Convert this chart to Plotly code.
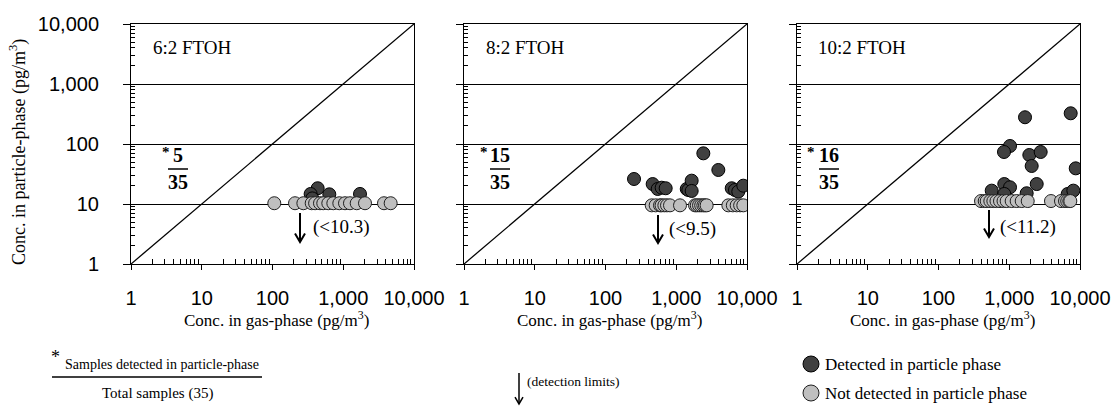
import plotly.graph_objects as go

# ---------------- data ----------------
panels = ["6:2 FTOH", "8:2 FTOH", "10:2 FTOH"]
detected_counts = ["5", "15", "16"]
total_samples = "35"
detection_limits = [10.3, 9.5, 11.2]
dl_labels = ["(<10.3)", "(<9.5)", "(<11.2)"]

p1_det_x = [435, 346, 365, 635, 1725]
p1_det_y = [18.3, 14.7, 12.4, 14.5, 14.7]
p1_nd_x = [106, 208, 273, 358, 400, 469, 522, 615, 724, 880, 1059, 1245, 1549, 2030, 3765, 4680]

p2_det_x = [253, 464, 547, 622, 709, 1406, 1482, 1652, 1652, 2414, 3935, 6080, 6770, 7530, 8870]
p2_det_y = [26.1, 21.5, 17.8, 18.7, 18.3, 17.8, 17.1, 24.5, 16.5, 69.9, 36.9, 18.3, 17.1, 16.1, 20.2]
p2_nd_x = [450, 512, 589, 620, 679, 740, 816, 1130, 1841, 1950, 2098, 2250, 2415, 2550, 2690,
           5450, 6300, 7150, 8000, 8870]

p3_det_x = [1670, 7385, 1025, 843, 1922, 2780, 2075, 8700, 2443, 565, 851, 1025, 851, 1763, 6700, 8050]
p3_det_y = [279, 325, 92.6, 73.6, 65.6, 73.6, 43, 39.3, 21.5, 16.7, 21.5, 19.0, 14.7, 15.1, 14.7, 16.7]
p3_nd_x = [399, 450, 480, 540, 596, 660, 740, 830, 919, 1082, 1273, 1500, 1824, 3890, 5385,
           6140, 6600, 7060, 7300]

tick_vals = [1, 10, 100, 1000, 10000]
tick_text = ["1", "10", "100", "1,000", "10,000"]
diag = [1, 10000]

det_x = [p1_det_x, p2_det_x, p3_det_x]
det_y = [p1_det_y, p2_det_y, p3_det_y]
nd_x = [p1_nd_x, p2_nd_x, p3_nd_x]

# ---------------- layout helpers ----------------
W, H = 1112, 407
SERIF = "Liberation Serif, Times New Roman, serif"
SANS = "Liberation Sans, Arial, sans-serif"
DARK = "#404040"
LIGHT = "#bfbfbf"


def px(x):
    return x / W


def py(y):
    return 1 - y / H


x_dom_px = [(131, 414), (464, 747), (797, 1080)]
y_dom = [py(264), py(24)]

fig = go.Figure()
minor_vals = [m * 10 ** d for d in range(4) for m in range(2, 10)]

for i in range(3):
    xa = "x" if i == 0 else f"x{i+1}"
    ya = "y" if i == 0 else f"y{i+1}"
    fig.add_trace(go.Scatter(x=diag, y=diag, mode="lines", line=dict(color="black", width=1.3),
                             xaxis=xa, yaxis=ya, showlegend=False, hoverinfo="skip"))
    fig.add_trace(go.Scatter(x=det_x[i], y=det_y[i], mode="markers",
                             marker=dict(size=13, color=DARK, line=dict(color="black", width=1)),
                             xaxis=xa, yaxis=ya, showlegend=False))
    fig.add_trace(go.Scatter(x=nd_x[i], y=[detection_limits[i]] * len(nd_x[i]), mode="markers",
                             marker=dict(size=13, color=LIGHT, line=dict(color="#202020", width=1)),
                             xaxis=xa, yaxis=ya, showlegend=False))

    x0, x1 = x_dom_px[i]
    xkey = "xaxis" if i == 0 else f"xaxis{i+1}"
    ykey = "yaxis" if i == 0 else f"yaxis{i+1}"
    fig.layout[xkey] = dict(
        domain=[px(x0), px(x1)], type="log", range=[0, 4], anchor=ya, automargin=False,
        tickmode="array", tickvals=tick_vals, ticktext=tick_text,
        ticks="outside", ticklen=5, tickwidth=1, tickcolor="black",
        showline=True, linecolor="black", linewidth=1, mirror=True,
        showgrid=False, zeroline=False, ticklabelstandoff=11,
        tickfont=dict(family=SANS, size=20, color="black"),
        minor=dict(tickmode="array", tickvals=minor_vals, ticks="inside", ticklen=5,
                   tickwidth=1, tickcolor="black", showgrid=False),
    )
    fig.layout[ykey] = dict(
        domain=y_dom, type="log", range=[0, 4], anchor=xa, automargin=False,
        tickmode="array", tickvals=tick_vals, ticktext=tick_text,
        ticks="outside", ticklen=7, tickwidth=1, tickcolor="black",
        showline=True, linecolor="black", linewidth=1, mirror=True,
        showgrid=True, gridcolor="black", gridwidth=1, zeroline=False,
        showticklabels=(i == 0), ticklabelstandoff=20,
        tickfont=dict(family=SANS, size=20, color="black"),
        minor=dict(tickmode="array", tickvals=minor_vals, ticks="inside", ticklen=4,
                   tickwidth=1, tickcolor="black", showgrid=False),
    )

ann = []
shapes = []


def down_arrow(xp, ytop, ybot, width=2, head=5):
    shapes.append(dict(type="line", xref="paper", yref="paper", x0=px(xp), x1=px(xp),
                       y0=py(ytop), y1=py(ybot), line=dict(color="black", width=width)))
    shapes.append(dict(type="path", xref="paper", yref="paper",
                       path=f"M {px(xp - head)},{py(ybot - head * 1.7)} L {px(xp)},{py(ybot)} "
                            f"L {px(xp + head)},{py(ybot - head * 1.7)}",
                       line=dict(color="black", width=width)))


label_x = [151, 484, 816]
frac_cx = [178, 500, 829]
star_x = [166, 484, 811]
arrow_x = [300, 658, 989]
arrow_y = [(213, 242), (215, 243), (210, 237)]
dl_text_x = [311, 667, 998]
dl_text_y = [227, 229, 227]

for i in range(3):
    x0, x1 = x_dom_px[i]
    ann.append(dict(x=px(label_x[i]), y=py(47), xref="paper", yref="paper", text=panels[i],
                    showarrow=False, xanchor="left", yanchor="middle",
                    font=dict(family=SERIF, size=19, color="black")))
    ann.append(dict(x=px(frac_cx[i]), y=py(155), xref="paper", yref="paper",
                    text="<b>" + detected_counts[i] + "</b>", showarrow=False,
                    xanchor="center", yanchor="middle",
                    font=dict(family=SERIF, size=20, color="black")))
    ann.append(dict(x=px(star_x[i]), y=py(152), xref="paper", yref="paper", text="<b>*</b>",
                    showarrow=False, xanchor="center", yanchor="middle",
                    font=dict(family=SERIF, size=15, color="black")))
    ann.append(dict(x=px(frac_cx[i]), y=py(182), xref="paper", yref="paper",
                    text="<b>" + total_samples + "</b>", showarrow=False,
                    xanchor="center", yanchor="middle",
                    font=dict(family=SERIF, size=20, color="black")))
    shapes.append(dict(type="line", xref="paper", yref="paper",
                       x0=px(frac_cx[i] - 10), x1=px(frac_cx[i] + 10), y0=py(169), y1=py(169),
                       line=dict(color="black", width=1.5)))
    down_arrow(arrow_x[i], arrow_y[i][0], arrow_y[i][1])
    ann.append(dict(x=px(dl_text_x[i]), y=py(dl_text_y[i]), xref="paper", yref="paper",
                    text=dl_labels[i], showarrow=False, xanchor="left", yanchor="middle",
                    font=dict(family=SERIF, size=19, color="black")))
    ann.append(dict(x=px((x0 + x1) / 2 + 4), y=py(319), xref="paper", yref="paper",
                    text="Conc. in gas-phase (pg/m<sup>3</sup>)", showarrow=False,
                    xanchor="center", yanchor="middle",
                    font=dict(family=SERIF, size=17, color="black")))

ann.append(dict(x=px(18), y=py(152), xref="paper", yref="paper",
                text="Conc. in particle-phase (pg/m<sup>3</sup>)", showarrow=False, textangle=-90,
                xanchor="center", yanchor="middle", font=dict(family=SERIF, size=18, color="black")))

# bottom-left key
ann.append(dict(x=px(55), y=py(357), xref="paper", yref="paper", text="*", showarrow=False,
                xanchor="center", yanchor="middle", font=dict(family=SERIF, size=18, color="black")))
ann.append(dict(x=px(63), y=py(364), xref="paper", yref="paper",
                text="Samples detected in particle-phase", showarrow=False,
                xanchor="left", yanchor="middle", font=dict(family=SERIF, size=14, color="black")))
shapes.append(dict(type="line", xref="paper", yref="paper", x0=px(52), x1=px(262),
                   y0=py(377), y1=py(377), line=dict(color="black", width=1.5)))
ann.append(dict(x=px(157), y=py(393), xref="paper", yref="paper", text="Total samples (35)",
                showarrow=False, xanchor="center", yanchor="middle",
                font=dict(family=SERIF, size=15, color="black")))

# detection-limits key
down_arrow(519, 373, 404, width=1.5, head=4)
ann.append(dict(x=px(525), y=py(381), xref="paper", yref="paper", text="(detection limits)",
                showarrow=False, xanchor="left", yanchor="middle",
                font=dict(family=SERIF, size=13.5, color="black")))

# marker key
shapes.append(dict(type="circle", xref="paper", yref="paper", x0=px(803), x1=px(819),
                   y0=py(372), y1=py(356), fillcolor=DARK, line=dict(color="black", width=1)))
shapes.append(dict(type="circle", xref="paper", yref="paper", x0=px(803), x1=px(819),
                   y0=py(401), y1=py(385), fillcolor=LIGHT, line=dict(color="#202020", width=1)))
ann.append(dict(x=px(823), y=py(364), xref="paper", yref="paper",
                text="Detected in particle phase", showarrow=False, xanchor="left",
                yanchor="middle", font=dict(family=SERIF, size=17, color="black")))
ann.append(dict(x=px(823), y=py(393), xref="paper", yref="paper",
                text="Not detected in particle phase", showarrow=False, xanchor="left",
                yanchor="middle", font=dict(family=SERIF, size=17, color="black")))

fig.update_layout(width=W, height=H, margin=dict(l=0, r=0, t=0, b=0, autoexpand=False),
                  paper_bgcolor="white", plot_bgcolor="white",
                  annotations=ann, shapes=shapes, showlegend=False)

fig.write_html("out.html", config={"responsive": False},
               post_script="document.body.style.margin='0';document.body.style.overflow='hidden';")
